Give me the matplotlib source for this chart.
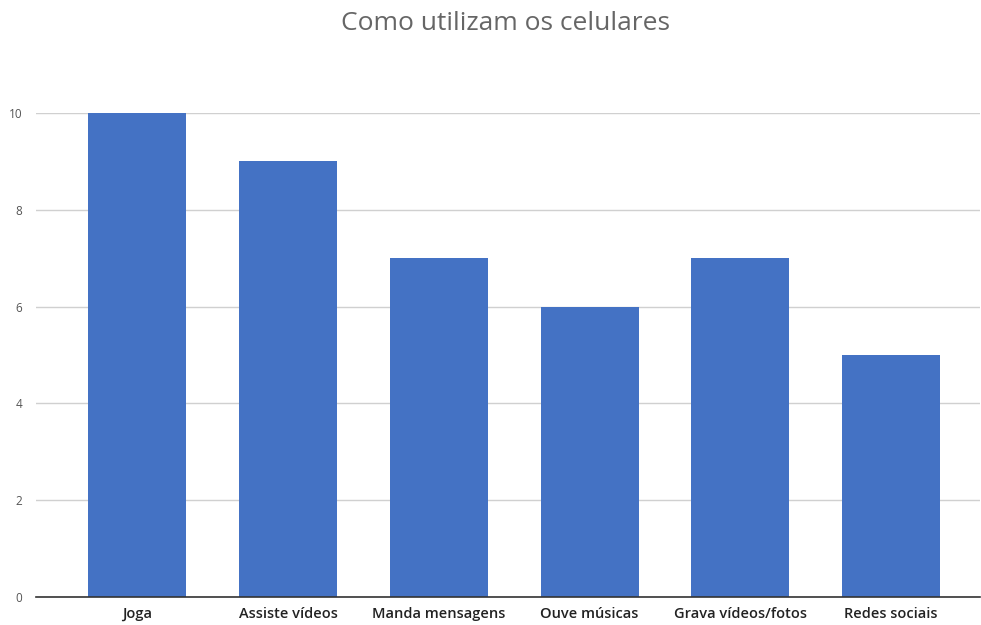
import matplotlib.pyplot as plt
import numpy as np

categories = ['Joga', 'Assiste vídeos', 'Manda mensagens', 'Ouve músicas',
              'Grava vídeos/fotos', 'Redes sociais']
values = [10, 9, 7, 6, 7, 5]
yticks = [0, 2, 4, 6, 8, 10]

plt.rcParams['font.family'] = ['Open Sans', 'DejaVu Sans']

fig = plt.figure(figsize=(9.81, 6.25), dpi=100)
ax = fig.add_axes([0.037, 0.045, 0.962, 0.774])

x = np.arange(len(categories))
ax.bar(x, values, width=0.65, color='#4472C4', zorder=3)

ax.set_xlim(-0.67, 5.59)
ax.set_ylim(0, 10)
ax.set_yticks(yticks)
ax.set_yticklabels([str(v) for v in yticks], fontsize=8.5, color='#555555')
ax.set_xticks(x)
ax.set_xticklabels(categories, fontsize=10.5, color='#222222', fontweight='semibold')
ax.tick_params(axis='y', length=0, pad=10)
ax.tick_params(axis='x', length=0, pad=7)

ax.grid(axis='y', color='#d0d0d0', linewidth=1, zorder=0)
for s in ['top', 'right', 'left']:
    ax.spines[s].set_visible(False)
ax.spines['bottom'].set_color('#333333')
ax.spines['bottom'].set_linewidth(1.2)
ax.spines['bottom'].set_zorder(4)

fig.text(0.515, 0.963, 'Como utilizam os celulares', ha='center', va='center',
         fontsize=19, color='#666666')

fig.savefig('out.png', dpi=100)
